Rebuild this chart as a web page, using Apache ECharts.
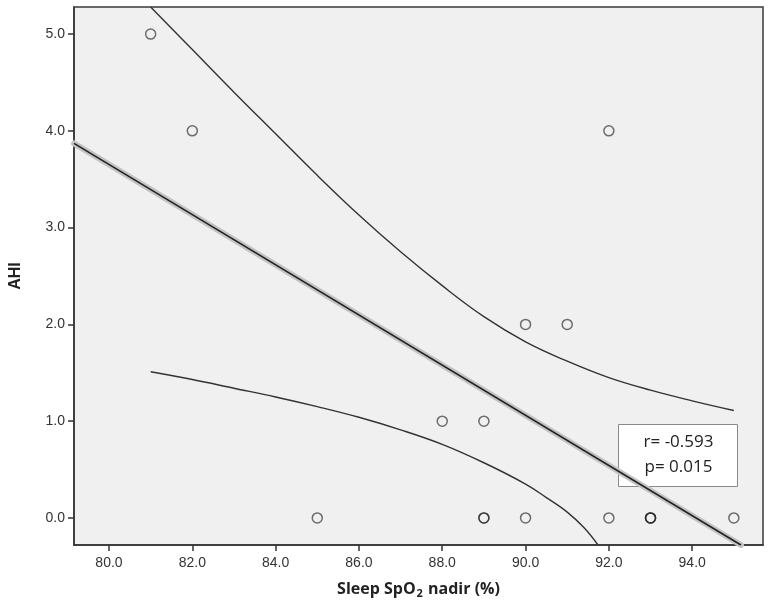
<!DOCTYPE html>
<html>
<head>
<meta charset="utf-8">
<script src="https://cdn.jsdelivr.net/npm/echarts@6/dist/echarts.min.js"></script>
<style>
  html, body { margin: 0; padding: 0; background: #fff; }
  #chart { width: 771px; height: 604px; }
</style>
</head>
<body>
<div id="chart"></div>
<script>
// observed points (duplicates overlap and show darker)
var spo2 = [81, 82, 92, 90, 91, 88, 89, 85, 89, 89, 90, 92, 93, 93, 93, 95]
var ahi  = [5, 4, 4, 2, 2, 1, 1, 0, 0, 0, 0, 0, 0, 0, 0, 0]

// fit line endpoints
var fitX = [79.16, 95.17]
var fitY = [3.87, -0.28]

// 95% CI of mean
var upperX = [81, 82, 83, 84, 85, 86, 87, 88, 89, 90, 91, 92, 93, 94, 95]
var upperY = [5.28, 4.84, 4.40, 3.97, 3.54, 3.13, 2.75, 2.40, 2.08, 1.82, 1.62, 1.45, 1.32, 1.21, 1.11]
var lowerX = [81, 82, 83, 84, 85, 86, 87, 88, 89, 90, 90.5, 91, 91.4, 91.74]
var lowerY = [1.51, 1.43, 1.34, 1.25, 1.15, 1.04, 0.91, 0.76, 0.57, 0.35, 0.21, 0.06, -0.10, -0.28]

var xTicks = [80, 82, 84, 86, 88, 90, 92, 94]
var yTicks = [0, 1, 2, 3, 4, 5]

function pairs (xs, ys) {
  return xs.map(function (x, i) { return [x, ys[i]] })
}

var chart = echarts.init(document.getElementById('chart'))

chart.setOption({
  animation: false,
  backgroundColor: '#fff',
  grid: {
    left: 73,
    right: 8,
    top: 7,
    bottom: 59,
    show: true,
    backgroundColor: '#f0f0f0',
    borderColor: '#3a3a3a',
    borderWidth: 1.5
  },
  xAxis: {
    type: 'value',
    min: 79.16,
    max: 95.7,
    name: '{a|Sleep SpO}{s|2}{a| nadir (%)}',
    nameLocation: 'middle',
    nameGap: 33,
    nameTextStyle: {
      rich: {
        a: { fontFamily: 'Open Sans', fontWeight: 'bold', fontSize: 16, color: '#222', lineHeight: 22 },
        s: { fontFamily: 'Open Sans', fontWeight: 'bold', fontSize: 11, color: '#222', padding: [9, 1, 0, 1], lineHeight: 22 }
      }
    },
    splitLine: { show: false },
    axisLine: { onZero: false, lineStyle: { color: '#333', width: 1.5 } },
    axisTick: { show: true, length: 6, customValues: xTicks, lineStyle: { color: '#333', width: 1.5 } },
    axisLabel: {
      customValues: xTicks,
      margin: 11,
      fontFamily: 'Liberation Sans',
      fontSize: 14,
      color: '#333',
      formatter: function (v) { return v.toFixed(1) }
    }
  },
  yAxis: {
    type: 'value',
    min: -0.28,
    max: 5.28,
    name: 'AHI',
    nameLocation: 'middle',
    nameGap: 50,
    nameTextStyle: { fontFamily: 'Liberation Sans', fontWeight: 'bold', fontSize: 16, color: '#222' },
    splitLine: { show: false },
    axisLine: { onZero: false, lineStyle: { color: '#333', width: 1.5 } },
    axisTick: { show: true, length: 6, customValues: yTicks, lineStyle: { color: '#333', width: 1.5 } },
    axisLabel: {
      customValues: yTicks,
      margin: 9,
      fontFamily: 'Liberation Sans',
      fontSize: 14,
      color: '#333',
      formatter: function (v) { return v.toFixed(1) }
    }
  },
  series: [
    {
      // light halo under the fit line
      type: 'line',
      data: pairs(fitX, fitY),
      symbol: 'none',
      silent: true,
      lineStyle: { color: '#c4c4c4', width: 6, cap: 'round' },
      z: 2
    },
    {
      type: 'line',
      data: pairs(fitX, fitY),
      symbol: 'none',
      silent: true,
      lineStyle: { color: '#222', width: 1.6 },
      z: 3
    },
    {
      type: 'line',
      data: pairs(upperX, upperY),
      smooth: 0.4,
      symbol: 'none',
      lineStyle: { color: '#333', width: 1.4 },
      z: 3
    },
    {
      type: 'line',
      data: pairs(lowerX, lowerY),
      smooth: 0.4,
      symbol: 'none',
      lineStyle: { color: '#333', width: 1.4 },
      z: 3
    },
    {
      type: 'scatter',
      data: pairs(spo2, ahi),
      symbol: 'circle',
      symbolSize: 10,
      itemStyle: { color: 'transparent', borderColor: 'rgba(35,35,35,0.8)', borderWidth: 1.5 },
      z: 4
    }
  ],
  graphic: [
    {
      type: 'group',
      left: 618,
      top: 424,
      z: 10,
      children: [
        {
          type: 'rect',
          shape: { x: 0, y: 0, width: 119, height: 62 },
          style: { fill: '#fff', stroke: '#8a8a8a', lineWidth: 1 }
        },
        {
          type: 'text',
          x: 60, y: 18,
          style: { text: 'r= -0.593', fontFamily: 'Open Sans', fontSize: 17, fill: '#222', align: 'center', verticalAlign: 'middle' }
        },
        {
          type: 'text',
          x: 60, y: 43,
          style: { text: 'p= 0.015', fontFamily: 'Open Sans', fontSize: 17, fill: '#222', align: 'center', verticalAlign: 'middle' }
        }
      ]
    }
  ]
})
</script>
</body>
</html>
